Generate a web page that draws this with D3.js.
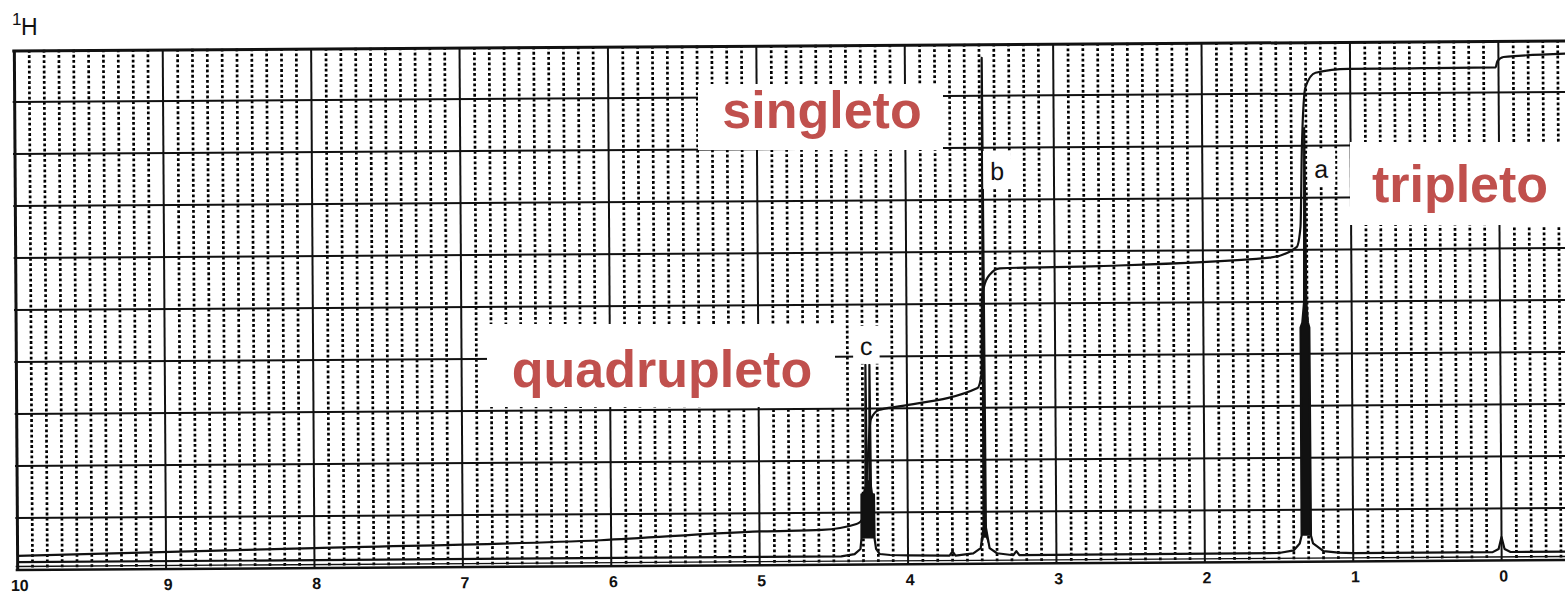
<!DOCTYPE html>
<html><head><meta charset="utf-8">
<script src="https://cdn.jsdelivr.net/npm/d3@7"></script>
<style>html,body{margin:0;padding:0;background:#fff;overflow:hidden}</style>
</head><body>
<svg id="c" width="1565" height="596"></svg>
<script>
// ---- data ----
const ppmTicks = [10, 9, 8, 7, 6, 5, 4, 3, 2, 1, 0];
const tickLabels = ["10", "9", "8", "7", "6", "5", "4", "3", "2", "1", "0"];
const gridRows = [1, 2, 3, 4, 5, 6, 7, 8, 9];

const spectrumPPM = [10.0, 4.45, 4.36, 4.32, 4.313, 4.311, 4.296, 4.284, 4.279, 4.274, 4.257, 4.252, 4.247, 4.240, 4.227, 4.225, 4.215, 4.19, 4.12, 4.0,
  3.72, 3.70, 3.68, 3.56, 3.51, 3.49, 3.482, 3.474, 3.45, 3.40, 3.29, 3.27, 3.25,
  1.5, 1.40, 1.36, 1.347, 1.345, 1.333, 1.320, 1.312, 1.305, 1.295, 1.286, 1.284, 1.27, 1.20, 1.10, 1.0,
  0.06, 0.02, 0.0, -0.02, -0.06, -0.5];
const spectrumI = [0.15, 0.16, 0.2, 0.3, 0.5, 1.35, 1.35, 1.5, 3.84, 1.6, 1.6, 3.84, 1.5, 1.35, 1.35, 0.5, 0.3, 0.2, 0.18, 0.17,
  0.16, 0.24, 0.16, 0.2, 0.3, 0.7, 9.73, 0.7, 0.3, 0.2, 0.16, 0.24, 0.16,
  0.17, 0.22, 0.35, 0.5, 4.5, 4.6, 5.0, 8.34, 5.0, 4.6, 4.5, 0.5, 0.35, 0.2, 0.17, 0.16,
  0.16, 0.22, 0.45, 0.22, 0.16, 0.16];

const integralPPM = [10.0, 8.0, 6.07, 4.99, 4.58, 4.346, 4.299, 4.272, 4.245, 4.191,
  4.043, 3.524, 3.497, 3.491, 3.477, 3.437, 3.369, 2.695, 1.55, 1.368,
  1.341, 1.328, 1.301, 1.233, 1.011, 0.02, 0.007, -0.034, -0.135, -0.5];
const integralI = [0.27, 0.385, 0.50, 0.65, 0.67, 0.78, 0.90, 1.83, 2.79, 2.97,
  3.04, 3.38, 3.65, 5.10, 5.32, 5.56, 5.68, 5.71, 5.85, 6.05,
  6.44, 7.98, 9.13, 9.40, 9.47, 9.48, 9.6, 9.68, 9.70, 9.74];

const peakLabels = ["a", "b", "c"];
const peakLabelPPM = [1.199, 3.383, 4.272];
const peakLabelI = [7.38, 7.38, 4.03];

const annotationTexts = ["singleto", "quadrupleto", "tripleto"];

// ---- layout ----
const svg = d3.select("#c");
const x = d3.scaleLinear().domain([10, 0]).range([16, 1500]);
const y = d3.scaleLinear().domain([0, 10]).range([565, 45]);

const g = svg.append("g").attr("transform", "rotate(-0.371, 790, 305)");

// minor dotted verticals
const minor = d3.range(-5, 100).map(d => d / 10).filter(d => Math.abs(d - Math.round(d)) > 1e-6);
g.append("g").selectAll("line").data(minor).join("line")
  .attr("x1", d => x(d)).attr("x2", d => x(d))
  .attr("y1", y(10)).attr("y2", y(0))
  .attr("stroke", "#000").attr("stroke-width", 2.7)
  .attr("stroke-dasharray", "2.8 2.4");

// horizontal grid
g.append("g").selectAll("line").data(gridRows).join("line")
  .attr("x1", 14).attr("x2", 1600)
  .attr("y1", d => y(d)).attr("y2", d => y(d))
  .attr("stroke", "#111").attr("stroke-width", 2);

// major verticals
g.append("g").selectAll("line").data(ppmTicks.concat([-1])).join("line")
  .attr("x1", d => x(d)).attr("x2", d => x(d))
  .attr("y1", y(10)).attr("y2", y(0))
  .attr("stroke", "#111").attr("stroke-width", d => d === 10 ? 3 : 2);

// frame top & bottom
g.append("line").attr("x1", 14).attr("x2", 1600).attr("y1", y(10) + 1).attr("y2", y(10) + 1)
  .attr("stroke", "#111").attr("stroke-width", 3);
g.append("line").attr("x1", 14).attr("x2", 1600).attr("y1", y(0)).attr("y2", y(0))
  .attr("stroke", "#111").attr("stroke-width", 2.5);
g.append("line").attr("x1", 14).attr("x2", 1600).attr("y1", y(0) - 3.5).attr("y2", y(0) - 3.5)
  .attr("stroke", "#111").attr("stroke-width", 1.3);

// integral curve
const integralData = integralPPM.map((p, i) => [p, integralI[i]]);
g.append("path").datum(integralData)
  .attr("fill", "none").attr("stroke", "#111").attr("stroke-width", 2.2)
  .attr("d", d3.line().x(d => x(d[0])).y(d => y(d[1])).curve(d3.curveMonotoneX));

// spectrum: filled body of the multiplets + outline
const specData = spectrumPPM.map((p, i) => [p, spectrumI[i]]);
g.append("path").datum(specData)
  .attr("fill", "#111").attr("stroke", "none")
  .attr("d", d3.area().x(d => x(d[0])).y0(d => y(Math.min(d[1], 0.5))).y1(d => y(d[1])));
g.append("path").datum(specData)
  .attr("fill", "none").attr("stroke", "#111").attr("stroke-width", 2.2)
  .attr("stroke-linejoin", "round")
  .attr("d", d3.line().x(d => x(d[0])).y(d => y(d[1])));

// peak letters
const lg = g.append("g");
peakLabels.forEach((t, i) => {
  const txt = lg.append("text").attr("x", x(peakLabelPPM[i])).attr("y", y(peakLabelI[i]))
    .attr("text-anchor", "middle").attr("font-family", "Liberation Sans, Arial, sans-serif")
    .attr("font-size", 25).attr("fill", "#111").text(t);
  const b = txt.node().getBBox();
  lg.insert("rect", "text").attr("x", b.x - 7).attr("y", b.y - 6)
    .attr("width", b.width + 14).attr("height", b.height + 10).attr("fill", "#fff");
});

// tick labels
g.append("g").selectAll("text").data(ppmTicks).join("text")
  .attr("x", d => x(d) + 2).attr("y", 586)
  .attr("text-anchor", "middle").attr("font-family", "Liberation Sans, Arial, sans-serif")
  .attr("font-weight", "bold").attr("font-size", 16).attr("fill", "#111")
  .text((d, i) => tickLabels[i]);

// 1H label
svg.append("text").attr("x", 12).attr("y", 25).attr("font-family", "Liberation Sans, Arial, sans-serif")
  .attr("font-size", 17).attr("fill", "#111").text("1");
svg.append("text").attr("x", 21).attr("y", 35).attr("font-family", "Liberation Sans, Arial, sans-serif")
  .attr("font-size", 23).attr("fill", "#111").text("H");

// annotation boxes
const annLayout = [
  { cx: 822, base: 128, top: 84, bottom: 150, left: 698, right: 943 },
  { cx: 662, base: 387, top: 324, bottom: 407, left: 487, right: 835 },
  { cx: 1460, base: 202, top: 142, bottom: 225, left: 1350, right: 1570 }
];
const ag = svg.append("g");
annotationTexts.forEach((t, i) => {
  const L = annLayout[i];
  ag.append("rect").attr("x", L.left).attr("y", L.top)
    .attr("width", L.right - L.left).attr("height", L.bottom - L.top).attr("fill", "#fff");
  ag.append("text").attr("x", L.cx).attr("y", L.base).attr("text-anchor", "middle")
    .attr("font-family", "Liberation Sans, Arial, sans-serif").attr("font-weight", "bold")
    .attr("font-size", 52).attr("fill", "#C0504D").text(t);
});
</script>
</body></html>
